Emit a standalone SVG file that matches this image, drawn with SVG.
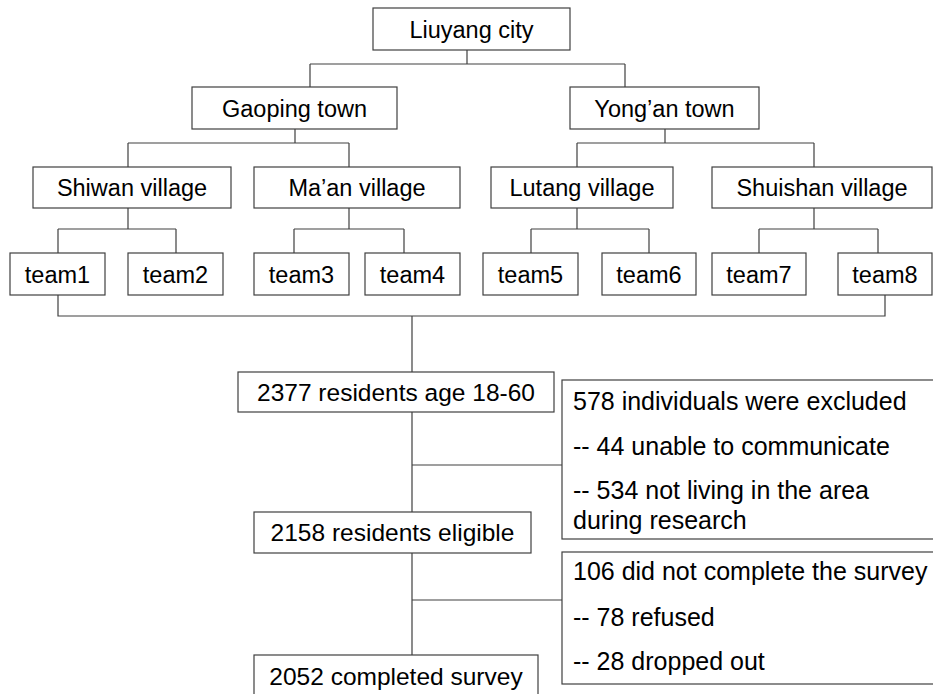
<svg xmlns="http://www.w3.org/2000/svg" width="933" height="694" viewBox="0 0 933 694">
<style>
  rect.box { fill: #ffffff; stroke: #404040; stroke-width: 1.2; }
  text { font-family: "Liberation Sans", Arial, sans-serif; font-size: 23.5px; fill: #000000; }
  text.c { text-anchor: middle; }
  text.b { font-size: 24.5px; }
  text.r { font-size: 25px; }
  .conn path { fill: none; stroke: #404040; stroke-width: 1.2; }
</style>
<rect width="933" height="694" fill="#ffffff"/>
<g class="conn" id="connectors">
  <path d="M467,50 V64 M310,64 H625 M310,64 V87 M625,64 V87"/>
  <path d="M295,129 V143 M128,143 H349 M128,143 V167 M349,143 V167"/>
  <path d="M665,129 V143 M577,143 H814 M577,143 V167 M814,143 V167"/>
  <path d="M128,208 V229 M58,229 H176 M58,229 V253 M176,229 V253"/>
  <path d="M349,208 V229 M294,229 H404 M294,229 V253 M404,229 V253"/>
  <path d="M577,208 V229 M531,229 H649 M531,229 V253 M649,229 V253"/>
  <path d="M814,208 V229 M759,229 H878 M759,229 V253 M878,229 V253"/>
  <path d="M58,295 V316 H885 V295 M412,316 V372"/>
  <path d="M412,412 V512 M412,465 H562"/>
  <path d="M412,553 V655 M412,600 H562"/>
</g>
<g id="liuyang"><rect class="box" x="373" y="8" width="197" height="42"/><text class="c" x="471.5" y="37.5">Liuyang city</text></g>
<g id="gaoping"><rect class="box" x="192" y="87" width="205" height="42"/><text class="c" x="294.5" y="116.5">Gaoping town</text></g>
<g id="yongan"><rect class="box" x="570" y="87" width="189" height="42"/><text class="c" x="664.5" y="116.5">Yong’an town</text></g>
<g id="shiwan"><rect class="box" x="33" y="167" width="198" height="41"/><text class="c" x="132" y="196">Shiwan village</text></g>
<g id="maan"><rect class="box" x="254" y="167" width="206" height="41"/><text class="c" x="357" y="196">Ma’an village</text></g>
<g id="lutang"><rect class="box" x="491" y="167" width="182" height="41"/><text class="c" x="582" y="196">Lutang village</text></g>
<g id="shuishan"><rect class="box" x="712" y="167" width="220" height="41"/><text class="c" x="822" y="196">Shuishan village</text></g>
<g id="team1"><rect class="box" x="10" y="253" width="95" height="42"/><text class="c" x="57.5" y="282.5">team1</text></g>
<g id="team2"><rect class="box" x="128" y="253" width="95" height="42"/><text class="c" x="175.5" y="282.5">team2</text></g>
<g id="team3"><rect class="box" x="254" y="253" width="95" height="42"/><text class="c" x="301.5" y="282.5">team3</text></g>
<g id="team4"><rect class="box" x="365" y="253" width="95" height="42"/><text class="c" x="412.5" y="282.5">team4</text></g>
<g id="team5"><rect class="box" x="483" y="253" width="95" height="42"/><text class="c" x="530.5" y="282.5">team5</text></g>
<g id="team6"><rect class="box" x="602" y="253" width="94" height="42"/><text class="c" x="649" y="282.5">team6</text></g>
<g id="team7"><rect class="box" x="712" y="253" width="94" height="42"/><text class="c" x="759" y="282.5">team7</text></g>
<g id="team8"><rect class="box" x="838" y="253" width="94" height="42"/><text class="c" x="885" y="282.5">team8</text></g>
<g id="residents"><rect class="box" x="238" y="372" width="316" height="40"/><text class="c b" x="396" y="400.5">2377 residents age 18-60</text></g>
<g id="excluded"><rect class="box" x="562" y="380" width="380" height="159"/>
  <text class="r" x="573" y="410">578 individuals were excluded</text>
  <text class="r" x="573" y="455">-- 44 unable to communicate</text>
  <text class="r" x="573" y="499">-- 534 not living in the area</text>
  <text class="r" x="573" y="529">during research</text>
</g>
<g id="eligible"><rect class="box" x="254" y="512" width="277" height="41"/><text class="c b" x="392.5" y="541">2158 residents eligible</text></g>
<g id="incomplete"><rect class="box" x="562" y="552" width="380" height="132"/>
  <text class="r" x="573" y="580">106 did not complete the survey</text>
  <text class="r" x="573" y="626">-- 78 refused</text>
  <text class="r" x="573" y="670">-- 28 dropped out</text>
</g>
<g id="completed"><rect class="box" x="254" y="655" width="284" height="50"/><text class="c b" x="396" y="685">2052 completed survey</text></g>
</svg>
